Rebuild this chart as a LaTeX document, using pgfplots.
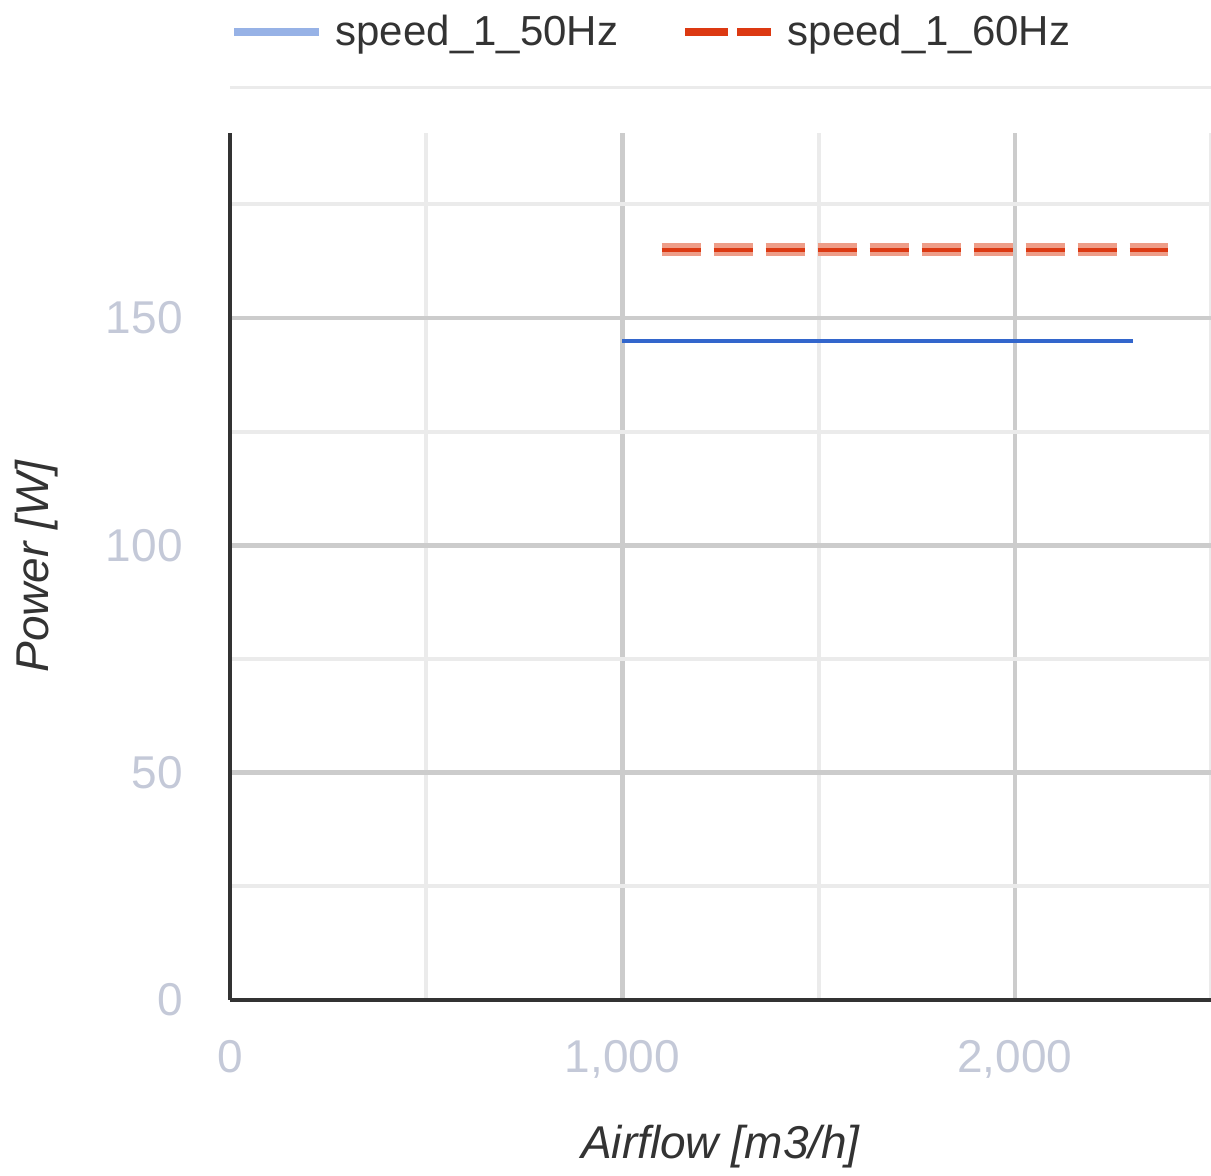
\documentclass[border=0pt]{standalone}
\usepackage{pgfplots}
\pgfplotsset{compat=1.18}
\usepackage{fontspec}
\setmainfont{Liberation Sans}
\definecolor{tickgray}{RGB}{196,201,216}
\definecolor{majgrid}{RGB}{204,204,204}
\definecolor{mingrid}{RGB}{235,235,235}
\definecolor{axisdark}{RGB}{51,51,51}
\definecolor{blueline}{RGB}{51,102,204}
\definecolor{bluelegend}{RGB}{151,178,230}
\definecolor{redline}{RGB}{220,57,18}
\definecolor{redhalo}{RGB}{238,157,136}
\definecolor{textdark}{RGB}{51,51,51}
\begin{document}
\begin{tikzpicture}
\path[use as bounding box] (0,0) rectangle (605.5pt,588pt);
\begin{axis}[
  at={(115pt,88pt)}, anchor=south west,
  scale only axis, width=490.5pt, height=433.5pt,
  xmin=0, xmax=2500, ymin=0, ymax=190.7,
  axis lines*=left,
  x axis line style={-, color=axisdark, line width=2pt},
  y axis line style={-, color=axisdark, line width=2pt},
  xtick={0,1000,2000}, minor xtick={500,1500,2500},
  ytick={0,50,100,150}, minor ytick={25,75,125,175},
  grid=both,
  major grid style={color=majgrid, line width=2.3pt},
  minor grid style={color=mingrid, line width=2pt},
  major tick length=0pt, minor tick length=0pt,
  tick style={draw=none},
  /pgf/number format/.cd, 1000 sep={,}, assume math mode=true, /pgfplots/.cd,
  ticklabel style={font=\fontsize{23pt}{27pt}\selectfont, text=tickgray, inner sep=0pt},
  yticklabel style={anchor=east, xshift=-23.5pt},
  xticklabel style={anchor=north, yshift=-20pt},
  xlabel={Airflow [m3/h]}, ylabel={Power [W]},
  every axis x label/.style={at={(axis description cs:0.5,0)}, anchor=center, yshift=-73.5pt,
    font=\fontsize{23pt}{27pt}\selectfont\itshape, text=textdark},
  every axis y label/.style={at={(axis description cs:0,0.5)}, xshift=-96.5pt, rotate=90, anchor=center,
    font=\fontsize{23pt}{27pt}\selectfont\itshape, text=textdark},
  clip=false,
  legend columns=2,
  legend cell align=left,
  legend style={at={(rel axis cs:0,1.1165)}, anchor=west, draw=none, fill=none,
    inner sep=0pt, outer sep=0pt,
    font=\fontsize{21pt}{25pt}\selectfont, text=textdark,
    nodes={inner sep=0pt},
    /tikz/every odd column/.append style={column sep=6pt},
    /tikz/every even column/.append style={column sep=31.5pt}},
]
\addplot[color=redhalo, line width=6.5pt, dash pattern=on 19.5pt off 6.5pt, forget plot]
  coordinates {(1100,165) (2390,165)};
\addplot[color=blueline, line width=2.2pt,
  legend image code/.code={\draw[color=bluelegend, line width=4.3pt] (-2pt,0pt) -- (40.5pt,0pt);}]
  coordinates {(1000,145) (2300,145)};
\addlegendentry{speed\_1\_50Hz}
\addplot[color=redline, line width=2pt, dash pattern=on 19.5pt off 6.5pt,
  legend image code/.code={\draw[color=redline, line width=4.3pt, dash pattern=on 21.5pt off 4.5pt] (0pt,0pt) -- (43pt,0pt);}]
  coordinates {(1100,165) (2390,165)};
\addlegendentry{speed\_1\_60Hz}
\draw[color=mingrid, line width=1.5pt] (rel axis cs:0,1.0519) -- (rel axis cs:1,1.0519);
\end{axis}
\end{tikzpicture}
\end{document}
